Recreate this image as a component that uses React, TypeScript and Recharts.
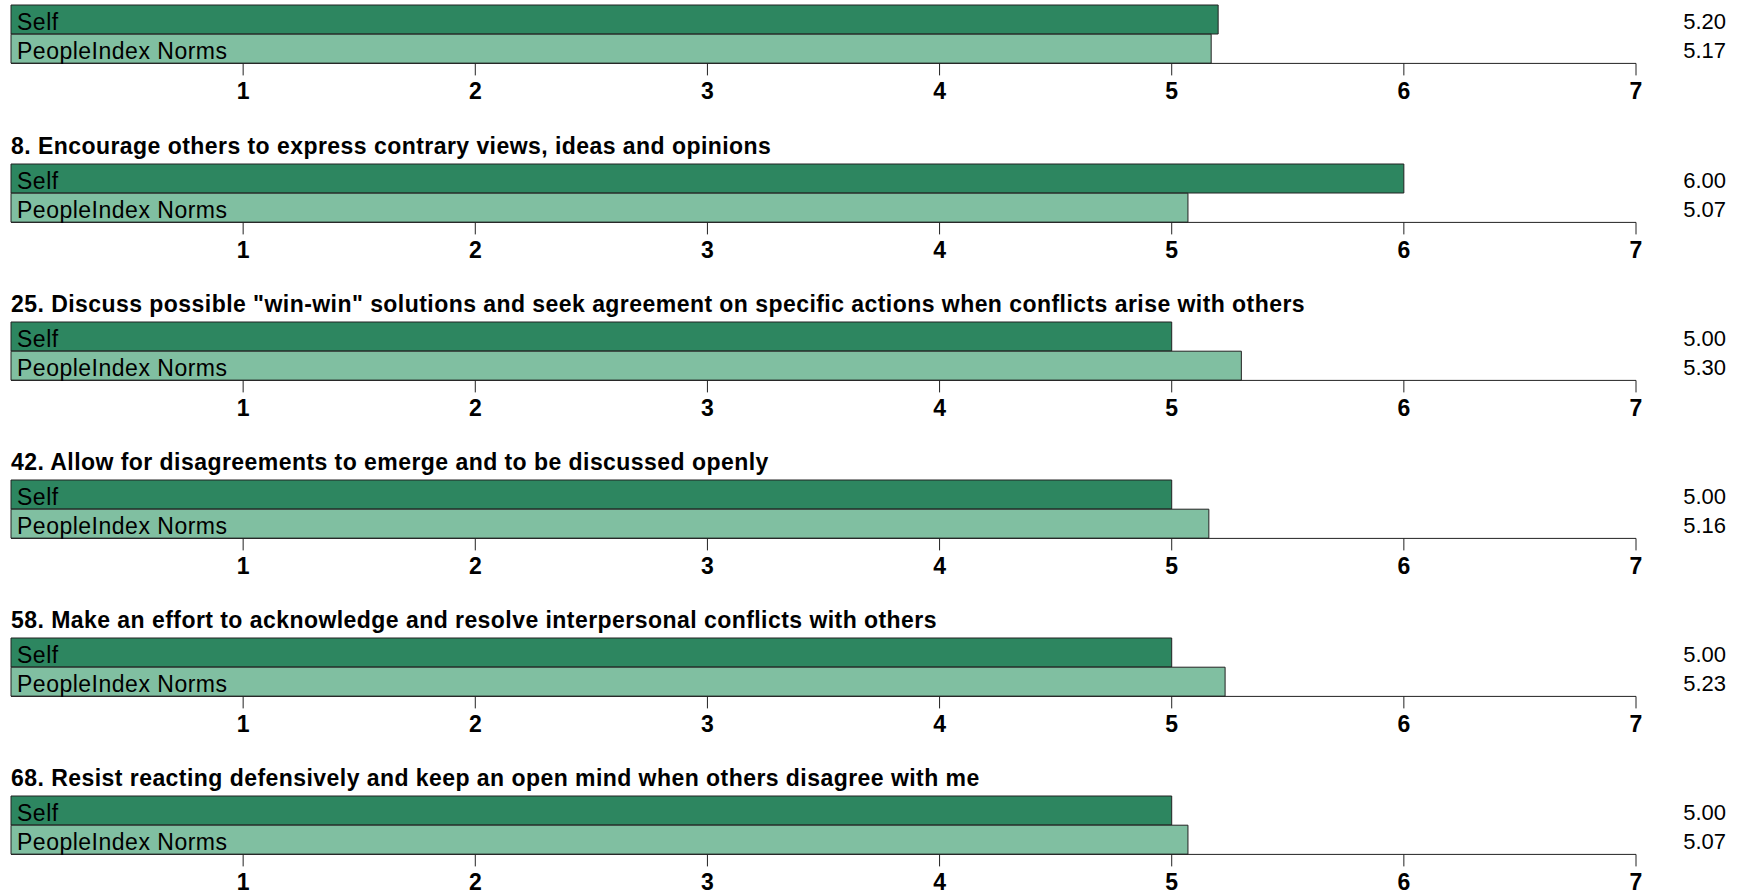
import { BarChart, Bar, XAxis, YAxis, Cell, LabelList } from "recharts"

const titulos = [
  "",
  "8. Encourage others to express contrary views, ideas and opinions",
  "25. Discuss possible \"win-win\" solutions and seek agreement on specific actions when conflicts arise with others",
  "42. Allow for disagreements to emerge and to be discussed openly",
  "58. Make an effort to acknowledge and resolve interpersonal conflicts with others",
  "68. Resist reacting defensively and keep an open mind when others disagree with me",
]
const categorias = ["Self", "PeopleIndex Norms"]
const valoresSelf = [5.2, 6.0, 5.0, 5.0, 5.0, 5.0]
const valoresNormas = [5.17, 5.07, 5.3, 5.16, 5.23, 5.07]
const ticks = [1, 2, 3, 4, 5, 6, 7]
const cores = ["#2D8660", "#80BFA1"]

const FONTE = "'Liberation Sans', Arial, Helvetica, sans-serif"
const LARGURA = 1744
const ALTURA = 158
const MARGEM_TOPO = 40
const PASSO = 158.2
const ALTURA_BARRAS = 58.4

const RotuloInterno = (props: any) => {
  const { x, y, height, value } = props
  return (
    <text x={x + 6} y={y + height / 2 + 10.3} fontSize={23} letterSpacing={0.5} fontFamily={FONTE} fill="#000">
      {value}
    </text>
  )
}

const RotuloValor = (props: any) => {
  const { y, height, value } = props
  return (
    <text x={LARGURA - 18} y={y + height / 2 + 9.5} fontSize={22} fontFamily={FONTE} fill="#000" textAnchor="end">
      {Number(value).toFixed(2)}
    </text>
  )
}

function Painel({ indice }: { indice: number }) {
  const dados = categorias.map((nome, i) => ({
    nome,
    valor: i === 0 ? valoresSelf[indice] : valoresNormas[indice],
  }))
  return (
    <div style={{ position: "absolute", left: 0, top: 5.3 + PASSO * indice - MARGEM_TOPO }}>
      <BarChart
        width={LARGURA}
        height={ALTURA}
        data={dados}
        layout="vertical"
        barCategoryGap={0}
        margin={{ top: MARGEM_TOPO, right: 108, left: 11, bottom: 0 }}
      >
        <text
          x={11}
          y={MARGEM_TOPO - 10}
          fontSize={23}
          letterSpacing={0.45}
          fontWeight="bold"
          fontFamily={FONTE}
          fill="#000"
        >
          {titulos[indice]}
        </text>
        <XAxis
          type="number"
          domain={[0, 7]}
          ticks={ticks}
          height={ALTURA - MARGEM_TOPO - ALTURA_BARRAS}
          axisLine={{ stroke: "#222", strokeWidth: 1 }}
          tickLine={{ stroke: "#222", strokeWidth: 1 }}
          tickSize={12}
          tickMargin={7}
          tick={{ fontSize: 23, fontWeight: "bold", fill: "#000", fontFamily: FONTE }}
        />
        <YAxis type="category" dataKey="nome" hide />
        <Bar dataKey="valor" stroke="#222" strokeWidth={1} isAnimationActive={false}>
          {dados.map((_, i) => (
            <Cell key={i} fill={cores[i]} />
          ))}
          <LabelList dataKey="nome" content={<RotuloInterno />} />
          <LabelList dataKey="valor" content={<RotuloValor />} />
        </Bar>
      </BarChart>
    </div>
  )
}

export default function App() {
  return (
    <div
      style={{
        position: "absolute",
        left: 0,
        top: 0,
        width: LARGURA,
        height: 893,
        overflow: "hidden",
        background: "#fff",
        fontFamily: FONTE,
      }}
    >
      {titulos.map((_, i) => (
        <Painel key={i} indice={i} />
      ))}
    </div>
  )
}
